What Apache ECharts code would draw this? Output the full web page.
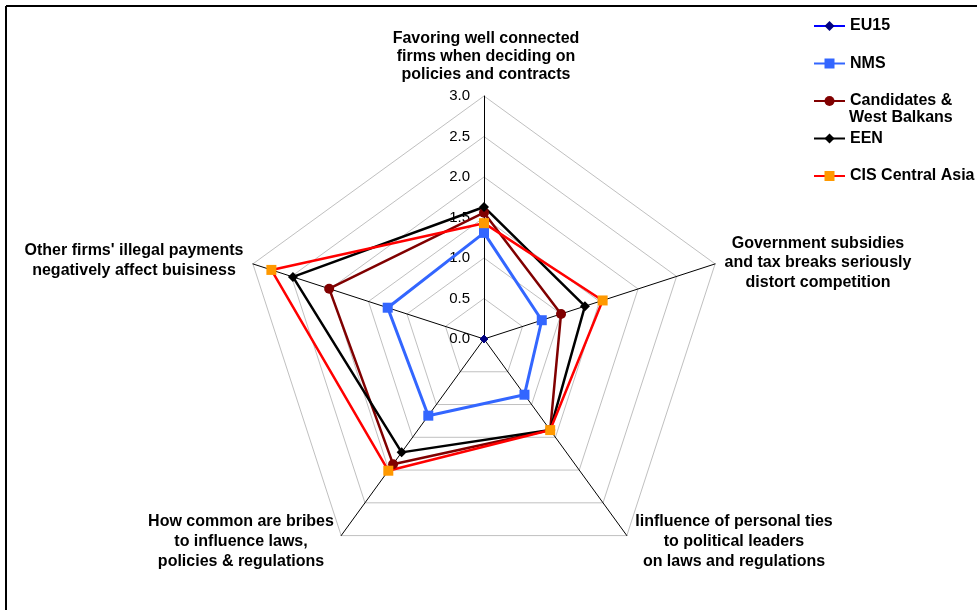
<!DOCTYPE html>
<html>
<head>
<meta charset="utf-8">
<script src="https://cdn.jsdelivr.net/npm/echarts@6/dist/echarts.min.js"></script>
<style>
  html, body { margin: 0; padding: 0; background: #fff; }
  #chart { width: 977px; height: 610px; }
</style>
</head>
<body>
<div id="chart"></div>
<script>
// ── Data (Excel order, clockwise from top) ──────────────────
const categories = [
  'Favoring well connected\nfirms when deciding on\npolicies and contracts',
  'Government subsidies\nand tax breaks seriously\ndistort competition',
  'Iinfluence of personal ties\nto political leaders\non laws and regulations',
  'How common are bribes\nto influence laws,\npolicies & regulations',
  "Other firms' illegal payments\nnegatively affect buisiness",
];
const seriesNames = ['EU15', 'NMS', 'Candidates & West Balkans', 'EEN', 'CIS Central Asia'];
const eu15       = [0, 0, 0, 0, 0];
const nms        = [1.31, 0.75, 0.85, 1.17, 1.25];
const candidates = [1.56, 1.00, 1.39, 1.91, 2.01];
const een        = [1.63, 1.31, 1.39, 1.73, 2.48];
const cis        = [1.43, 1.54, 1.39, 2.01, 2.76];
const axisTicks  = ['0.0', '0.5', '1.0', '1.5', '2.0', '2.5', '3.0'];

// ECharts lays indicators out counter-clockwise, Excel clockwise
const order = [0, 4, 3, 2, 1];
const reorder = arr => order.map(i => arr[i]);

const FONT = '"Liberation Sans", Arial, sans-serif';

// name label anchors (centre of each text block)
const namePos = [
  { x: 486, y: 57, lh: 18 },
  { x: 818, y: 263, lh: 19.5 },
  { x: 734, y: 542, lh: 20 },
  { x: 241, y: 542, lh: 20 },
  { x: 134, y: 261, lh: 20 },
];

const styles = [
  { line: '#0000FF', item: '#000080', width: 1,   symbol: 'diamond', size: 8 },
  { line: '#3366FF', item: '#3366FF', width: 3,   symbol: 'rect',    size: 10 },
  { line: '#800000', item: '#800000', width: 2.5, symbol: 'circle',  size: 10 },
  { line: '#000000', item: '#000000', width: 2.5, symbol: 'diamond', size: 10 },
  { line: '#FF0000', item: '#FF9900', width: 2.5, symbol: 'rect',    size: 10 },
];
const values = [eu15, nms, candidates, een, cis];

const chart = echarts.init(document.getElementById('chart'), null, { renderer: 'canvas' });

const indicator = reorder(categories).map((name, i) => {
  const ind = { name, min: 0, max: 3 };
  if (i === 0) {
    ind.axisLabel = {
      show: true,
      fontSize: 15,
      fontFamily: FONT,
      color: '#000',
      margin: 14,
      formatter: v => axisTicks[Math.round(v * 2)] || v.toFixed(1),
    };
  }
  return ind;
});

const graphics = [
  { type: 'line', shape: { x1: 6, y1: 6, x2: 977, y2: 6 }, style: { stroke: '#000', lineWidth: 2 } },
  { type: 'line', shape: { x1: 6, y1: 6, x2: 6, y2: 610 }, style: { stroke: '#000', lineWidth: 2 } },
  {
    type: 'text', x: 849, y: 118,
    style: { text: 'West Balkans', font: 'bold 16px ' + FONT, fill: '#000', verticalAlign: 'middle' },
  },
];
categories.forEach((name, i) => {
  const p = namePos[i];
  graphics.push({
    type: 'text', x: p.x, y: p.y,
    style: {
      text: name, font: 'bold 16px ' + FONT, fill: '#000',
      align: 'center', verticalAlign: 'middle', lineHeight: p.lh,
    },
  });
});

// empty line series only supply line+marker legend icons
const legendSeries = seriesNames.map((name, i) => ({
  type: 'line',
  name,
  data: [],
  symbol: styles[i].symbol,
  lineStyle: { color: styles[i].line, width: styles[i].width },
  itemStyle: { color: styles[i].item },
}));

chart.setOption({
  animation: false,
  backgroundColor: '#fff',
  grid: { left: 0, top: 0, width: 10, height: 10, show: false },
  xAxis: { show: false, type: 'value' },
  yAxis: { show: false, type: 'value' },
  legend: {
    orient: 'vertical',
    left: 813,
    top: 18,
    padding: 0,
    itemWidth: 31,
    itemHeight: 12.5,
    itemGap: 21.5,
    data: seriesNames,
    formatter: n => n === 'Candidates & West Balkans' ? 'Candidates &' : n,
    textStyle: { fontSize: 16, fontWeight: 'bold', fontFamily: FONT, color: '#000', lineHeight: 16 },
  },
  radar: {
    center: [484, 339],
    radius: 243,
    shape: 'polygon',
    splitNumber: 6,
    indicator,
    axisName: { show: false },
    axisLine: { lineStyle: { color: '#000', width: 1 } },
    splitLine: { lineStyle: { color: '#C0C0C0', width: 1 } },
    splitArea: { show: false },
    axisTick: { show: false },
    axisLabel: { show: false },
  },
  series: [
    ...legendSeries,
    {
      type: 'radar',
      data: seriesNames.map((name, i) => ({
        name,
        value: reorder(values[i]),
        symbol: styles[i].symbol,
        symbolSize: styles[i].size,
        lineStyle: { color: styles[i].line, width: styles[i].width },
        itemStyle: { color: styles[i].item, borderWidth: 0 },
      })),
    },
  ],
  graphic: graphics,
});
</script>
</body>
</html>
